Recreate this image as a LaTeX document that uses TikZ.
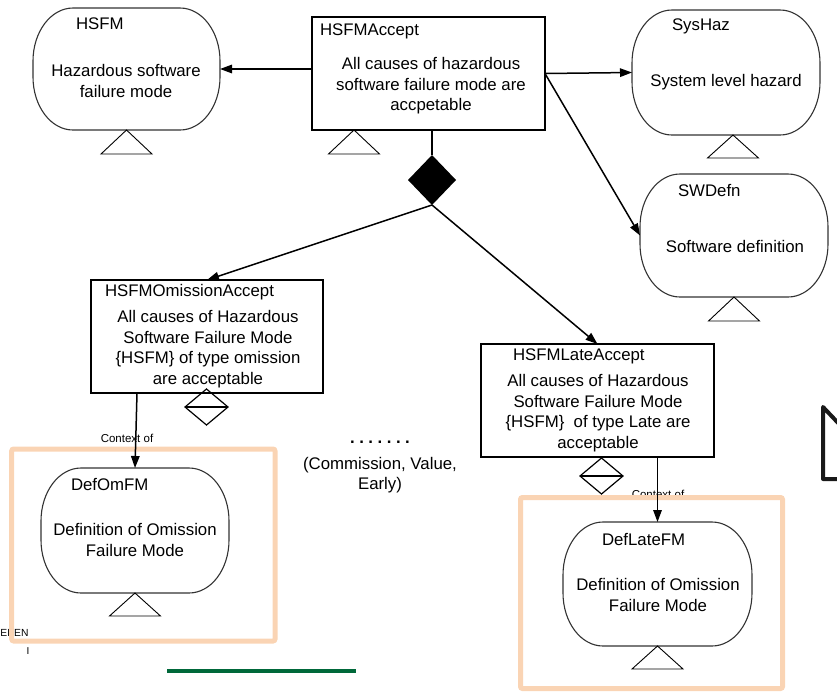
\documentclass[tikz,border=0pt]{standalone}
\usepackage{fontspec}
\setmainfont{Liberation Sans}
\usetikzlibrary{arrows.meta,shapes.geometric,calc}
\definecolor{peach}{RGB}{250,212,180}
\definecolor{darkgreen}{RGB}{0,104,58}
% name, cx, cy, width, height
\newcommand\ctxnode[5]{%
  \node[ctxbox, minimum width=#4pt, minimum height=#5pt] (#1) at (#2,#3) {};
  \draw[ctxline] ([xshift=40pt]#1.north west) -- ([xshift=-40pt]#1.north east)
    arc[start angle=90,end angle=0,x radius=40pt,y radius=53pt]
    -- ([yshift=53pt]#1.south east)
    arc[start angle=0,end angle=-90,x radius=40pt,y radius=53pt]
    -- ([xshift=40pt]#1.south west)
    arc[start angle=270,end angle=180,x radius=40pt,y radius=53pt]
    -- ([yshift=-53pt]#1.north west)
    arc[start angle=180,end angle=90,x radius=40pt,y radius=53pt] -- cycle;
}
\begin{document}
\begin{tikzpicture}[x=1pt,y=-1pt,
  every node/.style={inner sep=0pt,outer sep=0pt},
  body/.style={font=\fontsize{16.8}{20.5}\selectfont,align=center},
  ttl/.style={font=\fontsize{16.8}{20.5}\selectfont,anchor=west},
  small/.style={font=\fontsize{11.5}{13}\selectfont},
  goalbox/.style={draw=black,line width=1.4pt,rectangle},
  ctxbox/.style={rectangle},
  ctxline/.style={draw=black!80,line width=1.1pt},
  tri/.style={draw=black,line width=0.9pt},
  arr/.style={line width=1.5pt,-{Triangle[length=12pt,width=8.5pt]}},
  lin/.style={line width=1.5pt},
  orangebox/.style={draw=peach,line width=5pt,rounded corners=2pt},
  optdia/.style={diamond,draw=black,line width=1.2pt,minimum width=43pt,minimum height=36pt},
]
\useasboundingbox (0,0) rectangle (837,691);

% stray texts at left edge and labels partly covered by the frames
\node[font=\fontsize{10.3}{12}\selectfont,anchor=east] (epen) at (28.5,633) {EPEN};
\node[font=\fontsize{10}{12}\selectfont] (ichar) at (28,651) {I};
\node[small] (ctxL) at (127,438) {Context of};
\node[small] (ctxR) at (658,494.5) {Context of};

% frames
\draw[orangebox] (11.7,449) rectangle (275,641);
\draw[orangebox,fill=white] (520.5,497.5) rectangle (782.5,688.5);

% HSFM
\ctxnode{HSFM}{126.5}{69}{187}{122}
\node[ttl] (HSFMt) at (76,24) {HSFM};
\node[body] (HSFMb) at (126,81) {Hazardous software\\failure mode};
\draw[tri] (HSFM.south) -- ++(-25.5,24) -- ++(51,0) -- cycle;

% HSFMAccept
\node[goalbox,minimum width=233pt,minimum height=113pt] (HSFMAccept) at (428.5,73.5) {};
\node[ttl] (HSFMAcceptt) at (320,31) {HSFMAccept};
\node[body] (HSFMAcceptb) at (431,86) {All causes of hazardous\\software failure mode are\\accpetable};
\draw[tri] ($(HSFMAccept.south west)+(42,0)$) -- ++(-25.5,24) -- ++(51,0) -- cycle;

% SysHaz
\ctxnode{SysHaz}{726}{72.5}{188}{125}
\node[ttl] (SysHazt) at (672,26) {SysHaz};
\node[body] (SysHazb) at (726,82) {System level hazard};
\draw[tri] ($(SysHaz.south)+(7,0)$) -- ++(-25.5,23) -- ++(51,0) -- cycle;

% SWDefn
\ctxnode{SWDefn}{734}{235.5}{188}{123}
\node[ttl] (SWDefnt) at (678,190) {SWDefn};
\node[body] (SWDefnb) at (735,246) {Software definition};
\draw[tri] (SWDefn.south) -- ++(-25.5,24) -- ++(51,0) -- cycle;

% strategy diamond
\node[diamond,fill=black,minimum width=48pt,minimum height=50pt] (D) at (432,180) {};

% HSFMOmissionAccept
\node[goalbox,minimum width=232pt,minimum height=113pt] (Om) at (207,336.5) {};
\node[ttl] (Omt) at (105,292) {HSFMOmissionAccept};
\node[body] (Omb) at (208,349) {All causes of Hazardous\\Software Failure Mode\\\{HSFM\} of type omission\\are acceptable};
\node[optdia] (OmOpt) at (206.5,407) {};
\draw[line width=1.2pt] (OmOpt.west) -- (OmOpt.east);

% HSFMLateAccept
\node[goalbox,minimum width=233pt,minimum height=113pt] (Late) at (597.5,400.5) {};
\node[ttl] (Latet) at (513,356) {HSFMLateAccept};
\node[body] (Lateb) at (598,413) {All causes of Hazardous\\Software Failure Mode\\\{HSFM\}\ \ of type Late are\\acceptable};
\node[optdia] (LateOpt) at (601.5,476) {};
\draw[line width=1.2pt] (LateOpt.west) -- (LateOpt.east);

% other strategies
\node[font=\bfseries\fontsize{16.8}{20}\selectfont] (dots) at (380,442) {.\kern4.5pt.\kern4.5pt.\kern4.5pt.\kern4.5pt.\kern4.5pt.\kern4.5pt.};
\node[body] (comm) at (380,475) {(Commission, Value,\\Early)};

% DefOmFM
\ctxnode{DefOmFM}{135}{530.5}{188}{125}
\node[ttl] (DefOmFMt) at (71,484) {DefOmFM};
\node[body] (DefOmFMb) at (135,540) {Definition of Omission\\Failure Mode};
\draw[tri] (DefOmFM.south) -- ++(-25.5,23) -- ++(51,0) -- cycle;

% DefLateFM
\ctxnode{DefLateFM}{657.5}{584}{189}{124}
\node[ttl] (DefLateFMt) at (602,539) {DefLateFM};
\node[body] (DefLateFMb) at (658,595) {Definition of Omission\\Failure Mode};
\draw[tri] (DefLateFM.south) -- ++(-25.5,23) -- ++(51,0) -- cycle;

% connectors
\draw[arr] (HSFMAccept.west |- HSFM.east) -- (HSFM.east);
\draw[arr] (HSFMAccept.east) -- (SysHaz.west);
\draw[arr] (HSFMAccept.east) -- (SWDefn.west);
\draw[lin] (HSFMAccept.south -| D.north) -- (D.north);
\draw[arr] (D.south) -- (Om.north);
\draw[arr] (D.south) -- (Late.north);
\draw[arr] ($(Om.south west)+(46,0)$) -- (DefOmFM.north);
\draw[arr] (Late.south -| DefLateFM.north) -- (DefLateFM.north);

% decorations
\draw[line width=4pt,draw=darkgreen] (167,670.5) -- (356,670.5);
\draw[line width=4pt,draw=black!90,line join=round,line cap=round] (841,426) -- (823,407) -- (823,479) -- (841,479);
\end{tikzpicture}
\end{document}
